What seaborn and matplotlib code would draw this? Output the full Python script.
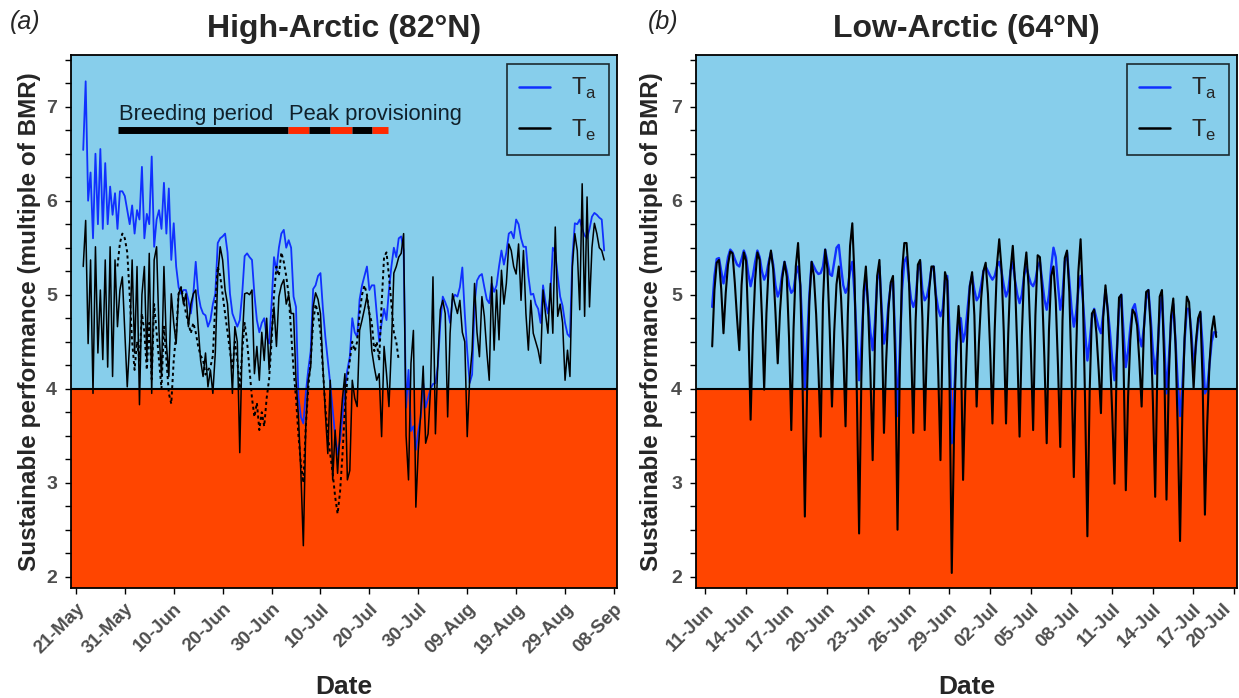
import pandas as pd
import matplotlib
matplotlib.use("Agg")
import matplotlib.pyplot as plt
import matplotlib.dates as mdates
import matplotlib.transforms as mtransforms
from matplotlib.lines import Line2D
from matplotlib.ticker import MultipleLocator
import seaborn as sns

# panel (a) High-Arctic, half-day values starting 22-May 12:00
ta_a = [6.54, 7.27, 6.0, 6.3, 5.6, 6.5, 5.75, 6.55, 5.7, 6.4,
        5.75, 6.15, 5.85, 6.08, 5.7, 6.1, 6.1, 6.05, 5.9, 5.75,
        5.95, 5.65, 5.9, 5.8, 6.36, 5.6, 5.86, 5.75, 6.47, 5.51,
        5.8, 5.9, 5.7, 6.19, 5.65, 6.13, 5.37, 5.76, 5.3, 5.08,
        5.01, 5.05, 5.05, 4.94, 4.8, 5.0, 5.35, 5.01, 4.87, 4.8,
        4.78, 4.66, 4.73, 4.9, 5.01, 5.55, 5.6, 5.62, 5.65, 5.45,
        5.01, 4.8, 4.73, 4.66, 4.73, 5.01, 5.41, 5.44, 5.4, 5.37,
        5.0, 4.73, 4.6, 4.7, 4.75, 4.55, 4.48, 4.9, 5.4, 5.26,
        5.5, 5.65, 5.69, 5.5, 5.58, 5.5, 4.98, 4.87, 3.91, 3.7,
        3.63, 3.95, 4.2, 4.4, 5.06, 5.1, 5.2, 5.23, 4.85, 4.55,
        4.3, 4.05, 3.78, 3.5, 3.3, 3.45, 3.7, 4.0, 4.2, 4.34,
        4.75, 4.6, 4.55, 4.95, 5.1, 5.2, 5.3, 5.05, 5.1, 5.1,
        4.8, 4.5, 4.7, 4.85, 4.73, 5.05, 5.3, 5.5, 5.4, 5.6,
        5.62, 5.47, 3.8, 4.2, 3.55, 3.6, 3.35, 3.55, 3.7, 4.06,
        3.8, 3.9, 4.0, 4.05, 4.06, 4.24, 4.7, 4.98, 4.92, 4.85,
        4.7, 4.95, 5.0, 4.98, 5.08, 5.29, 4.8, 4.4, 4.06, 4.15,
        4.9, 5.15, 5.2, 5.22, 5.08, 4.95, 4.91, 5.12, 5.03, 5.1,
        5.3, 5.47, 5.32, 5.45, 5.65, 5.67, 5.6, 5.8, 5.75, 5.6,
        5.51, 5.51, 5.2, 5.0, 5.01, 4.9, 4.85, 4.7, 5.1, 4.92,
        4.8, 5.0, 5.5, 5.45, 5.2, 4.98, 4.88, 4.7, 4.58, 4.55,
        5.4, 5.76, 5.75, 5.8, 5.7, 5.63, 5.6, 5.7, 5.83, 5.87,
        5.85, 5.82, 5.8, 5.47]
te_a = [5.3, 5.79, 4.48, 5.37, 3.95, 5.51, 4.38, 5.05, 4.31, 5.37,
        4.23, 5.51, 4.13, 5.37, 4.66, 5.05, 5.19, 4.6, 4.02, 4.5,
        5.37, 4.38, 5.3, 3.83, 5.0, 5.3, 4.31, 5.44, 3.95, 5.37,
        5.51, 4.6, 4.13, 5.3, 4.48, 4.13, 5.01, 4.7, 4.48, 5.01,
        5.08, 4.9, 5.01, 4.66, 4.9, 5.01, 5.05, 4.66, 4.3, 4.13,
        4.38, 4.02, 4.2, 3.95, 4.38, 5.2, 5.51, 5.37, 5.05, 4.9,
        4.5, 3.95, 4.66, 4.5, 3.32, 4.5, 5.01, 5.02, 5.0, 5.05,
        4.16, 4.45, 4.09, 4.6, 4.3, 4.75, 4.2, 4.6, 4.87, 4.45,
        4.98, 5.1, 5.16, 4.9, 5.0, 4.8, 4.8, 4.09, 3.7, 3.1,
        2.33, 3.6, 4.09, 4.23, 4.87, 5.02, 4.95, 4.8, 4.23, 3.74,
        3.31, 4.09, 3.03, 3.56, 3.1, 3.56, 3.9, 4.16, 3.03, 3.13,
        4.09, 3.9, 3.81, 4.62, 4.73, 4.85, 4.98, 4.8, 4.4, 4.23,
        4.09, 4.16, 3.49, 4.45, 4.16, 3.81, 4.45, 5.23, 5.3, 5.4,
        5.44, 5.65, 3.5, 3.03, 4.27, 4.62, 2.74, 3.35, 3.74, 4.24,
        3.42, 3.52, 4.0, 5.19, 3.52, 4.3, 4.84, 4.94, 4.8, 3.7,
        4.59, 5.01, 4.9, 4.8, 4.94, 4.6, 4.5, 3.49, 4.1, 4.41,
        5.12, 4.6, 4.34, 4.98, 4.77, 4.4, 4.09, 5.19, 4.41, 5.05,
        4.52, 5.26, 4.9, 5.12, 5.54, 5.47, 5.3, 5.22, 5.54, 4.94,
        5.47, 4.8, 4.41, 4.94, 4.59, 4.5, 4.41, 4.27, 5.05, 4.8,
        4.59, 5.12, 4.59, 5.72, 4.77, 4.9, 4.7, 4.09, 4.41, 4.13,
        5.3, 5.65, 5.47, 4.84, 6.18, 4.77, 6.04, 4.87, 5.5, 5.76,
        5.65, 5.5, 5.47, 5.37]
# dashed Te during the breeding period, half-day values starting 29-May 12:00
te_nest_a = [5.3, 5.55, 5.65, 5.6, 5.45, 5.0, 4.5, 4.2, 4.5, 4.3,
             4.8, 4.6, 4.2, 4.7, 4.1, 4.9, 4.6, 4.3, 4.0, 4.66,
             4.31, 3.95, 3.84, 4.3, 4.59, 5.01, 5.08, 4.95, 4.8, 4.7,
             4.59, 4.7, 4.6, 4.45, 4.35, 4.31, 4.15, 4.2, 4.23, 4.35,
             4.9, 5.3, 5.2, 5.0, 4.8, 4.6, 4.4, 4.2, 4.5, 4.3,
             4.0, 4.4, 4.7, 4.5, 4.2, 3.9, 3.7, 3.85, 3.56, 3.75,
             3.6, 3.9, 4.1, 4.5, 5.0, 5.3, 5.2, 5.45, 5.35, 5.2,
             5.0, 4.6, 4.2, 3.9, 3.5, 3.2, 3.0, 3.6, 4.0, 4.3,
             4.7, 4.9, 4.8, 4.6, 4.2, 3.8, 3.5, 3.3, 3.1, 2.85,
             2.67, 2.9, 3.3, 3.8, 4.1, 4.3, 4.5, 4.4, 4.5, 4.8,
             5.0, 5.1, 5.0, 4.8, 4.7, 4.4, 4.5, 4.3, 4.9, 5.4,
             5.45, 5.2, 4.9, 4.6, 4.5, 4.3]

# panel (b) Low-Arctic, 4-hourly values starting 11-Jun 12:24
ta_b = [4.87, 5.2, 5.38, 5.39, 5.25, 5.12, 5.25, 5.4, 5.48, 5.45, 5.38, 5.32,
        5.3, 5.38, 5.47, 5.4, 5.22, 5.09, 5.2, 5.35, 5.47, 5.4, 5.25, 5.16,
        5.22, 5.35, 5.45, 5.32, 5.1, 4.98, 5.05, 5.22, 5.35, 5.25, 5.1, 5.02,
        5.05, 5.22, 5.3, 5.1, 4.6, 3.99, 4.5, 5.0, 5.35, 5.3, 5.25, 5.22,
        5.23, 5.3, 5.48, 5.35, 5.22, 5.2, 5.35, 5.5, 5.53, 5.3, 5.1, 5.02,
        5.08, 5.25, 5.35, 5.0, 4.5, 4.09, 4.45, 4.95, 5.2, 4.9, 4.6, 4.41,
        4.7, 5.15, 5.3, 4.85, 4.48, 4.6, 4.9, 5.1, 5.15, 4.5, 3.71, 4.4,
        5.05, 5.35, 5.4, 5.15, 4.95, 4.87, 4.95, 5.25, 5.35, 5.05, 4.94, 4.98,
        5.1, 5.28, 5.3, 5.0, 4.85, 4.77, 4.85, 5.15, 5.2, 4.6, 3.42, 3.9,
        4.4, 4.75, 4.75, 4.5, 4.6, 4.85, 5.1, 5.2, 5.05, 4.94, 4.98, 5.1,
        5.25, 5.3, 5.25, 5.2, 5.16, 5.2, 5.3, 5.35, 5.25, 5.1, 4.98, 5.05,
        5.25, 5.35, 5.15, 5.0, 4.91, 5.0, 5.2, 5.3, 5.2, 5.12, 5.09, 5.15,
        5.3, 5.35, 5.15, 4.95, 4.84, 5.0, 5.3, 5.5, 5.4, 5.1, 4.84, 5.0,
        5.35, 5.45, 5.15, 4.85, 4.66, 4.8, 5.05, 5.2, 4.95, 4.6, 4.3, 4.5,
        4.75, 4.85, 4.75, 4.65, 4.59, 4.8, 5.05, 4.85, 4.6, 4.3, 4.09, 4.4,
        4.85, 5.0, 4.6, 4.23, 4.4, 4.65, 4.85, 4.9, 4.75, 4.55, 4.45, 4.65,
        4.95, 5.05, 4.75, 4.4, 4.16, 4.4, 4.8, 5.0, 4.5, 3.95, 4.3, 4.7,
        4.9, 4.5, 4.05, 3.71, 4.0, 4.5, 4.85, 4.85, 4.6, 4.23, 4.45, 4.7,
        4.8, 4.45, 3.95, 4.0, 4.25, 4.5, 4.6, 4.6]
te_b = [4.45, 5.05, 5.34, 5.37, 5.06, 4.59, 5.02, 5.32, 5.46, 5.44, 5.13, 4.75,
        4.41, 5.1, 5.45, 5.36, 4.65, 3.67, 4.58, 5.16, 5.45, 5.37, 4.77, 3.99,
        4.8, 5.31, 5.47, 5.27, 4.81, 4.27, 4.82, 5.17, 5.35, 5.19, 4.54, 3.56,
        4.64, 5.3, 5.55, 5.09, 4.04, 2.64, 4.0, 4.93, 5.35, 5.2, 4.79, 4.2,
        3.49, 4.91, 5.48, 5.27, 4.63, 3.81, 4.61, 5.11, 5.3, 4.98, 4.42, 3.6,
        4.79, 5.52, 5.76, 5.17, 3.95, 2.46, 4.11, 5.04, 5.3, 4.85, 4.17, 3.24,
        4.5, 5.2, 5.37, 4.73, 3.53, 4.31, 4.85, 5.13, 5.2, 4.25, 2.5, 4.2,
        5.25, 5.55, 5.55, 5.2, 4.46, 3.53, 4.72, 5.32, 5.37, 4.75, 3.56, 4.45,
        5.04, 5.3, 5.3, 4.94, 4.19, 3.24, 4.64, 5.24, 5.15, 4.09, 2.04, 3.52,
        4.48, 4.88, 4.5, 3.03, 4.0, 4.67, 5.09, 5.24, 4.78, 3.81, 4.48, 4.96,
        5.25, 5.34, 5.01, 4.4, 3.63, 4.63, 5.32, 5.59, 5.28, 4.61, 3.63, 4.59,
        5.26, 5.52, 5.13, 4.4, 3.49, 4.57, 5.23, 5.45, 5.09, 4.41, 3.56, 4.78,
        5.42, 5.4, 5.02, 4.31, 3.42, 4.62, 5.2, 5.3, 4.94, 4.24, 3.38, 4.73,
        5.39, 5.47, 5.03, 4.15, 3.06, 4.35, 5.24, 5.59, 4.99, 3.85, 2.43, 3.96,
        4.8, 4.84, 4.59, 4.2, 3.74, 4.76, 5.1, 4.83, 4.36, 3.73, 2.99, 4.31,
        4.97, 5.0, 4.27, 2.92, 3.91, 4.52, 4.84, 4.8, 4.67, 4.29, 3.81, 4.63,
        5.03, 5.05, 4.65, 3.85, 2.85, 4.27, 4.98, 5.05, 4.28, 2.82, 4.1, 4.77,
        4.96, 4.47, 3.54, 2.38, 3.73, 4.54, 4.98, 4.92, 4.51, 4.0, 4.49, 4.75,
        4.82, 4.06, 2.66, 3.61, 4.26, 4.62, 4.77, 4.55]

ticks_a = ['21-May', '31-May', '10-Jun', '20-Jun', '30-Jun', '10-Jul',
           '20-Jul', '30-Jul', '09-Aug', '19-Aug', '29-Aug', '08-Sep']
ticks_b = ['11-Jun', '14-Jun', '17-Jun', '20-Jun', '23-Jun', '26-Jun', '29-Jun',
           '02-Jul', '05-Jul', '08-Jul', '11-Jul', '14-Jul', '17-Jul', '20-Jul']

# breeding period bar, black = breeding, red = peak provisioning
bar_starts = ['2017-05-29 14:00', '2017-07-03 08:00', '2017-07-07 16:00', '2017-07-12 00:00',
              '2017-07-16 11:00', '2017-07-20 13:00']
bar_ends = ['2017-07-03 08:00', '2017-07-07 16:00', '2017-07-12 00:00', '2017-07-16 11:00',
            '2017-07-20 13:00', '2017-07-23 19:00']
bar_colors = ['black', '#ff2a00', 'black', '#ff2a00', 'black', '#ff2a00']

t_ta_a = pd.date_range('2017-05-22 12:00', periods=len(ta_a), freq='12h')
t_te_a = pd.date_range('2017-05-22 12:00', periods=len(te_a), freq='12h')
t_nest_a = pd.date_range('2017-05-29 12:00', periods=len(te_nest_a), freq='12h')
t_ta_b = pd.date_range('2017-06-11 12:24', periods=len(ta_b), freq='4h')
t_te_b = pd.date_range('2017-06-11 12:24', periods=len(te_b), freq='4h')

sns.set_style("ticks")
plt.rcParams['font.family'] = ['Liberation Sans', 'DejaVu Sans']
plt.rcParams['mathtext.fontset'] = 'custom'
plt.rcParams['mathtext.rm'] = 'Liberation Sans'

sky = '#87ceeb'
red = '#ff4500'
blue = '#1030ff'
grey = '#4d4d4d'

fig = plt.figure(figsize=(12.39, 6.98), dpi=100)
ax1 = fig.add_axes([0.0573, 0.1576, 0.4407, 0.7636])
ax2 = fig.add_axes([0.5617, 0.1576, 0.4366, 0.7636])

panels = [
    (ax1, t_ta_a, ta_a, t_te_a, te_a, 1.1, 'High-Arctic (82°N)', ticks_a,
     ('2017-05-20 00:00', '2017-09-08 15:00')),
    (ax2, t_ta_b, ta_b, t_te_b, te_b, 1.5, 'Low-Arctic (64°N)', ticks_b,
     ('2017-06-10 07:40', '2017-07-20 05:00')),
]

for ax, tx, ta, ty, te, lw, title, ticks, lims in panels:
    ax.axhspan(4, 7.55, color=sky, zorder=0)
    ax.axhspan(1.88, 4, color=red, zorder=0)
    sns.lineplot(x=tx, y=ta, ax=ax, color=blue, linewidth=lw + 0.2, zorder=2)
    sns.lineplot(x=ty, y=te, ax=ax, color='black', linewidth=lw, zorder=3)
    ax.axhline(4, color='black', linewidth=1.5, zorder=4)
    ax.set_ylim(1.88, 7.55)
    ax.set_xlim(pd.Timestamp(lims[0]), pd.Timestamp(lims[1]))
    tick_dates = pd.to_datetime([t + '-2017' for t in ticks], format='%d-%b-%Y')
    ax.set_xticks(tick_dates)
    ax.xaxis.set_major_formatter(mdates.DateFormatter('%d-%b'))
    ax.set_yticks([2, 3, 4, 5, 6, 7])
    ax.yaxis.set_minor_locator(MultipleLocator(0.25))
    ax.tick_params(axis='both', which='both', length=4, width=1, color='black')
    ax.tick_params(axis='x', labelsize=13.5, labelcolor=grey, pad=5)
    ax.tick_params(axis='y', labelsize=14, labelcolor=grey, pad=6)
    for lab in ax.get_yticklabels() + ax.get_xticklabels():
        lab.set_fontweight('bold')
    plt.setp(ax.get_xticklabels(), rotation=45, ha='right', rotation_mode='anchor')
    for s in ax.spines.values():
        s.set_color('black')
        s.set_linewidth(1.3)
    ax.set_xlabel('Date', fontsize=19, fontweight='bold')
    ax.set_ylabel('Sustainable performance (multiple of BMR)', fontsize=17.5, fontweight='bold')
    ax.xaxis.set_label_coords(0.5, -0.163)
    ax.set_title(title, fontsize=23, fontweight='bold', pad=13)
    handles = [Line2D([], [], color=blue, linewidth=1.8), Line2D([], [], color='black', linewidth=1.8)]
    leg = ax.legend(handles, [r'T$_{\rm a}$', r'T$_{\rm e}$'], loc='upper right',
                    bbox_to_anchor=(0.985, 0.983), borderaxespad=0, fontsize=17,
                    frameon=True, fancybox=False, handlelength=1.3, handletextpad=0.9,
                    labelspacing=0.7, borderpad=0.5)
    leg.get_frame().set_edgecolor('black')
    leg.get_frame().set_facecolor('none')
    leg.get_frame().set_linewidth(1.2)

ax1.yaxis.set_label_coords(-0.055, 0.5)
ax2.yaxis.set_label_coords(-0.061, 0.5)

# keep the last date label inside the figure
last = ax2.get_xticklabels()[-1]
last.set_transform(last.get_transform() + mtransforms.ScaledTranslation(-0.12, 0, fig.dpi_scale_trans))

sns.lineplot(x=t_nest_a, y=te_nest_a, ax=ax1, color='black', linewidth=1.4,
             linestyle=(0, (1.6, 1.6)), zorder=3)

for s, e, c in zip(bar_starts, bar_ends, bar_colors):
    ax1.hlines(6.75, pd.Timestamp(s), pd.Timestamp(e), color=c, linewidth=5, zorder=5)
ax1.text(pd.Timestamp('2017-05-29 20:00'), 6.92, 'Breeding period', fontsize=15.8,
         color='#10202a', va='center', ha='left')
ax1.text(pd.Timestamp('2017-07-03 12:00'), 6.92, 'Peak provisioning', fontsize=15.8,
         color='#10202a', va='center', ha='left')

fig.text(0.008, 0.968, '(a)', fontsize=18, style='italic', va='center')
fig.text(0.523, 0.968, '(b)', fontsize=18, style='italic', va='center')

fig.savefig('out.png', dpi=100)
